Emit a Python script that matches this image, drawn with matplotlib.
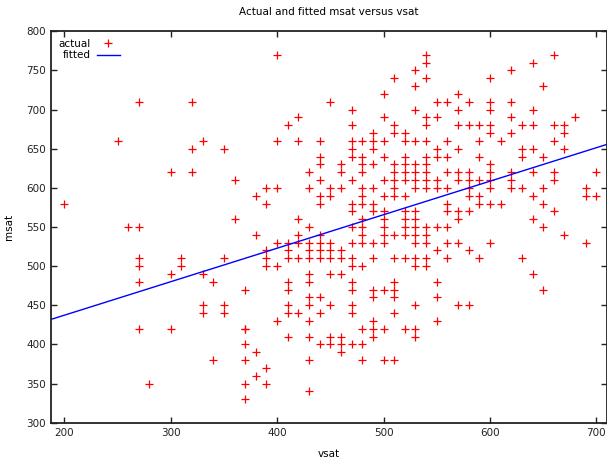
import numpy as np
import matplotlib
matplotlib.use("Agg")
from matplotlib import pyplot as plt

vsat = [
    200, 250, 260,
    270, 270, 270, 270, 270, 270,
    280,
    300, 300, 300,
    310, 310,
    320, 320, 320,
    330, 330, 330, 330,
    340, 340,
    350, 350, 350, 350,
    360, 360,
    370, 370, 370, 370, 370, 370, 370,
    380, 380, 380, 380,
    390, 390, 390, 390, 390, 390, 390,
    400, 400, 400, 400, 400, 400,
    410, 410, 410, 410, 410, 410, 410, 410, 410,
    420, 420, 420, 420, 420, 420, 420,
    430, 430, 430, 430, 430, 430, 430, 430, 430, 430, 430, 430, 430, 430,
    440, 440, 440, 440, 440, 440, 440, 440, 440, 440, 440, 440, 440,
    450, 450, 450, 450, 450, 450, 450, 450, 450, 450,
    460, 460, 460, 460, 460, 460, 460, 460, 460,
    470, 470, 470, 470, 470, 470, 470, 470, 470, 470, 470, 470, 470, 470, 470, 470, 470,
    480, 480, 480, 480, 480, 480, 480, 480, 480, 480, 480, 480, 480, 480, 480,
    490, 490, 490, 490, 490, 490, 490, 490, 490, 490, 490, 490, 490, 490,
    500, 500, 500, 500, 500, 500, 500, 500, 500, 500, 500, 500, 500, 500,
    510, 510, 510, 510, 510, 510, 510, 510, 510, 510, 510, 510, 510, 510, 510,
    520, 520, 520, 520, 520, 520, 520, 520, 520, 520, 520, 520, 520,
    530, 530, 530, 530, 530, 530, 530, 530, 530, 530, 530, 530, 530, 530, 530, 530, 530, 530,
    540, 540, 540, 540, 540, 540, 540, 540, 540, 540, 540, 540, 540, 540, 540, 540,
    550, 550, 550, 550, 550, 550, 550, 550, 550, 550, 550,
    560, 560, 560, 560, 560, 560, 560, 560, 560, 560,
    570, 570, 570, 570, 570, 570, 570, 570, 570, 570,
    580, 580, 580, 580, 580, 580, 580, 580, 580,
    590, 590, 590, 590, 590, 590, 590,
    600, 600, 600, 600, 600, 600, 600, 600, 600, 600, 600,
    610, 610,
    620, 620, 620, 620, 620, 620, 620,
    630, 630, 630, 630, 630,
    640, 640, 640, 640, 640, 640, 640, 640,
    650, 650, 650, 650, 650, 650,
    660, 660, 660, 660, 660, 660,
    670, 670, 670, 670,
    680,
    690, 690, 690,
    700, 700,
]
msat = [
    580, 660, 550,
    710, 550, 510, 500, 480, 420,
    350,
    620, 490, 420,
    510, 500,
    710, 650, 620,
    660, 490, 450, 440,
    480, 380,
    650, 510, 450, 440,
    610, 560,
    470, 420, 420, 400, 380, 350, 330,
    590, 540, 390, 360,
    600, 580, 520, 510, 500, 370, 350,
    770, 660, 600, 530, 500, 430,
    680, 530, 520, 510, 480, 470, 450, 440, 410,
    690, 660, 560, 540, 530, 510, 440,
    620, 600, 550, 530, 520, 510, 490, 480, 460, 450, 430, 410, 380, 340,
    660, 640, 630, 610, 590, 580, 540, 530, 520, 510, 460, 440, 400,
    710, 600, 590, 530, 520, 510, 490, 450, 410, 400,
    630, 620, 600, 520, 510, 490, 410, 400, 390,
    700, 680, 660, 650, 640, 610, 580, 570, 550, 530, 510, 500, 480, 470, 450, 440, 400,
    660, 640, 630, 620, 600, 590, 580, 560, 550, 540, 530, 500, 420, 400, 380,
    670, 660, 650, 630, 600, 580, 570, 530, 510, 470, 460, 430, 420, 410,
    720, 690, 660, 640, 610, 590, 570, 560, 550, 540, 530, 470, 420, 380,
    740, 680, 670, 630, 620, 610, 600, 590, 540, 510, 480, 470, 460, 440, 380,
    670, 660, 640, 630, 620, 610, 590, 570, 560, 550, 540, 510, 420,
    750, 730, 700, 660, 630, 620, 610, 600, 570, 560, 550, 540, 530, 510, 500, 450, 420, 410,
    770, 760, 740, 690, 680, 660, 640, 630, 620, 610, 600, 550, 540, 530, 510, 500,
    710, 690, 650, 640, 610, 600, 550, 520, 480, 460, 430,
    710, 660, 640, 620, 600, 580, 570, 550, 530, 510,
    720, 700, 680, 650, 620, 610, 570, 560, 530, 450,
    710, 680, 620, 610, 600, 590, 570, 520, 450,
    680, 660, 640, 610, 590, 580, 510,
    740, 710, 700, 680, 670, 630, 620, 610, 600, 580, 530,
    660, 580,
    750, 710, 690, 670, 620, 610, 600,
    680, 650, 640, 600, 510,
    760, 700, 680, 650, 620, 590, 560, 490,
    730, 640, 600, 580, 550, 470,
    770, 680, 660, 620, 610, 570,
    680, 670, 650, 540,
    690,
    600, 590, 530,
    620, 590,
]

# OLS fit shown in the reference
fit_const = 351.7
fit_slope = 0.428

x_ticks = [200, 300, 400, 500, 600, 700]
y_ticks = [300, 350, 400, 450, 500, 550, 600, 650, 700, 750, 800]

plt.rcParams['font.family'] = ['DejaVu Sans']

fig = plt.figure(figsize=(6.07, 4.62), dpi=100)
ax = fig.add_axes([51 / 607, 39.3 / 462, 556 / 607, 391.4 / 462])

ax.plot(vsat, msat, linestyle='none', marker='+', color='#ff0000',
        markersize=6.3, markeredgewidth=0.9, label='actual')

xlim = (187.5, 710)
xs = np.array(xlim)
ax.plot(xs, fit_const + fit_slope * xs, color='#0000ff', linewidth=1.0,
        label='fitted')

ax.set_xlim(*xlim)
ax.set_ylim(300, 800)
ax.set_xticks(x_ticks)
ax.set_yticks(y_ticks)
ax.tick_params(direction='in', length=4, width=1, labelsize=7.5,
               top=True, right=True, colors='#222222')
for s in ax.spines.values():
    s.set_linewidth(1.3)
    s.set_color('#222222')

ax.set_xlabel('vsat', fontsize=7.5, labelpad=8)
ax.set_ylabel('msat', fontsize=7.5, labelpad=9)
ax.set_title('Actual and fitted msat versus vsat', fontsize=7.5, pad=12)

leg = ax.legend(loc='upper left', markerfirst=False, frameon=False,
                fontsize=7.5, handlelength=2.2, borderaxespad=0.3,
                labelspacing=0.15, handletextpad=0.6)
for t in leg.get_texts():
    t.set_ha('right')

fig.savefig('out.png', dpi=100)
